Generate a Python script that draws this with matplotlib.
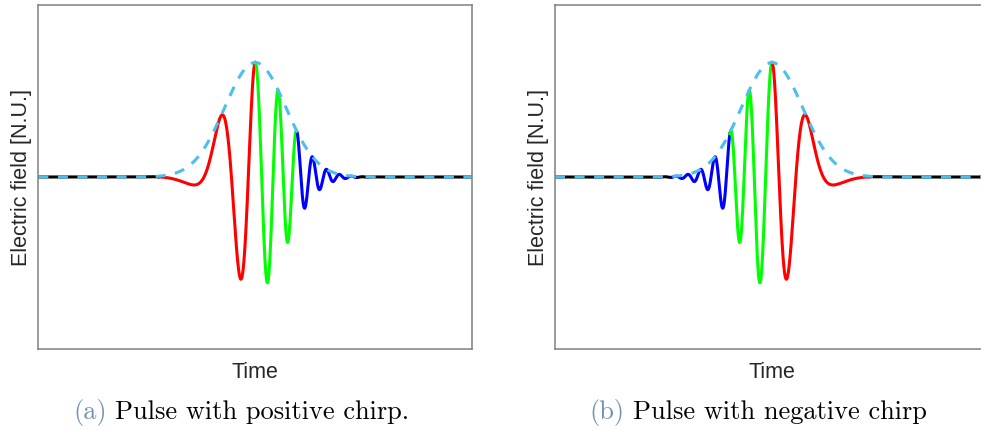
import numpy as np
import matplotlib
matplotlib.use("Agg")
import matplotlib.pyplot as plt

# Pulse description (time in envelope units, field normalised to the peak)
time_limits = [-5.0, 5.0]
field_limits = [-1.5, 1.5]
envelope_width = 1.0          # Gaussian envelope exp(-(t / width)^2)
carrier_freq = 10.25          # instantaneous angular frequency at the pulse centre
chirp_rate = 3.05             # quadratic phase coefficient (positive chirp)

# Colour bands along the positive-chirp pulse (time edges)
band_edges = [-2.2, 0.0, 0.97, 2.3]
band_colors = ["#ff0000", "#00ff00", "#0000ff"]
outside_color = "#000000"
envelope_color = "#4dbeee"

panel_captions = [("(a)", "Pulse with positive chirp."),
                  ("(b)", "Pulse with negative chirp")]

t = np.linspace(time_limits[0], time_limits[1], 6001)
envelope = np.exp(-(t / envelope_width) ** 2)
field_pos = envelope * np.cos(carrier_freq * t + chirp_rate * t ** 2)
field_neg = field_pos[::-1]   # time-reversed pulse: negative chirp

W, H = 981, 430
fig = plt.figure(figsize=(W / 100, H / 100), dpi=100)

label_kw = dict(family=["Liberation Sans", "DejaVu Sans"], fontsize=15.5,
                color="#262626")
cap_kw = dict(family=["cmr10", "DejaVu Serif"], fontsize=19)


def draw_panel(ax, field, edges, colors):
    ax.set_xlim(*time_limits)
    ax.set_ylim(*field_limits)
    lo, hi = edges[0], edges[-1]
    for mask in (t <= lo + 1e-9, t >= hi - 1e-9):
        ax.plot(t[mask], field[mask], color=outside_color, lw=2.2,
                solid_capstyle="butt")
    for a, b, c in zip(edges[:-1], edges[1:], colors):
        m = (t >= a - 1e-9) & (t <= b + 1e-9)
        ax.plot(t[m], field[m], color=c, lw=2.2, solid_joinstyle="round")
    ax.plot(t, envelope, color=envelope_color, lw=2.2,
            linestyle=(0, (3.3, 3.1)), dash_capstyle="butt")
    ax.set_xticks([])
    ax.set_yticks([])
    for s in ax.spines.values():
        s.set_color("#808080")
        s.set_linewidth(1.1)
    ax.set_xlabel("Time", **label_kw)
    ax.set_ylabel("Electric field [N.U.]", **label_kw)
    ax.xaxis.set_label_coords(0.5, -0.07)
    ax.yaxis.set_label_coords(-0.039, 0.5)
    ax.yaxis.label.set_verticalalignment("center")
    ax.xaxis.label.set_verticalalignment("center")


ax_w, ax_h = 434 / W, (348.7 - 5.3) / H
ax_b = (H - 348.7) / H
ax1 = fig.add_axes([38.3 / W, ax_b, ax_w, ax_h])
ax2 = fig.add_axes([555 / W, ax_b, ax_w, ax_h])

draw_panel(ax1, field_pos, band_edges, band_colors)
neg_edges = [-e for e in band_edges[::-1]]
draw_panel(ax2, field_neg, neg_edges, band_colors[::-1])

# Sub-figure captions
cap_y = (H - 419) / H
for (tag, text), x_tag, x_text in zip(panel_captions, [73.3, 589.3],
                                      [115.0, 633.3]):
    fig.text(x_tag / W, cap_y, tag, color="#7393b3", ha="left",
             va="baseline", **cap_kw)
    fig.text(x_text / W, cap_y, text, color="#000000", ha="left",
             va="baseline", **cap_kw)

fig.savefig("out.png", dpi=100, facecolor="white")
